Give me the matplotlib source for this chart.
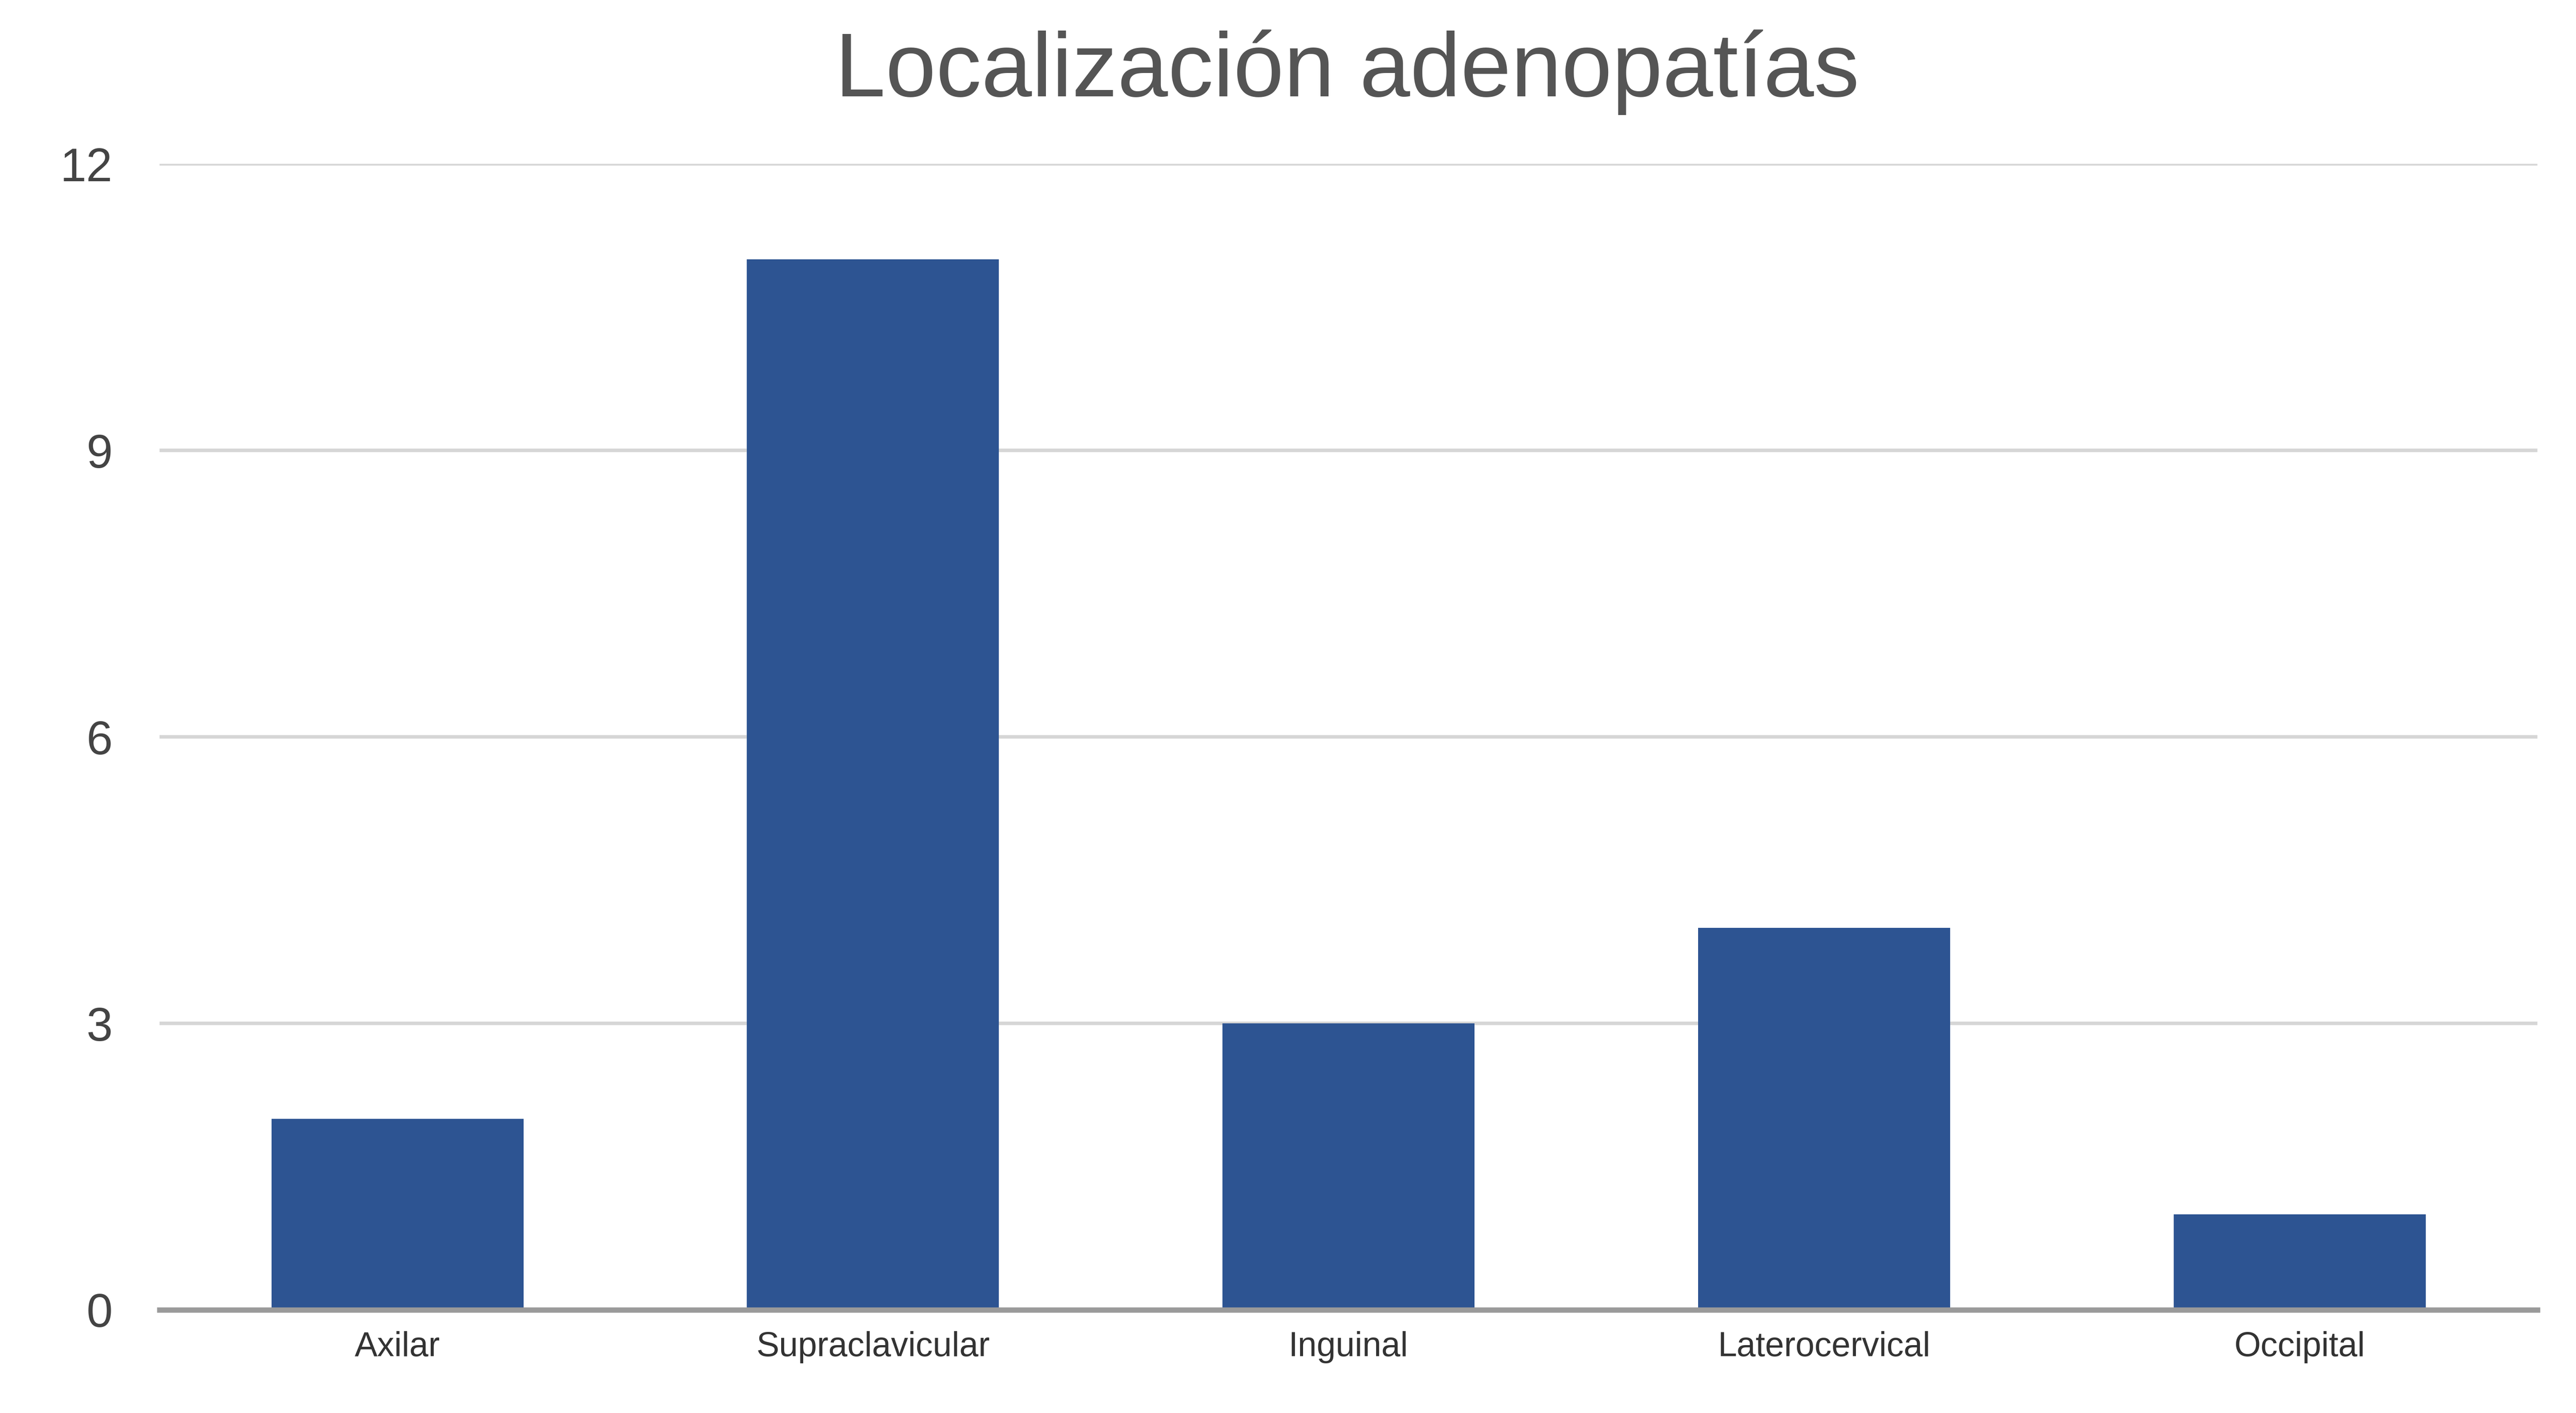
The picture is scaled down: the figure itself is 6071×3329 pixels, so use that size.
import matplotlib
matplotlib.use("Agg")
import matplotlib.pyplot as plt

# data
categories = ["Axilar", "Supraclavicular", "Inguinal", "Laterocervical", "Occipital"]
counts = [2, 11, 3, 4, 1]
y_ticks = [0, 3, 6, 9, 12]

plt.rcParams["font.family"] = ["Liberation Sans", "DejaVu Sans"]

fig = plt.figure(figsize=(60.71, 33.29), dpi=100)
ax = fig.add_axes([0.062, 0.073, 0.923, 0.811])

x = range(len(categories))
ax.bar(x, counts, width=0.53, color="#2d5492", zorder=3)

ax.set_xlim(-0.5, len(categories) - 0.5)
ax.set_ylim(0, 12)
ax.set_yticks(y_ticks)
ax.set_yticklabels([str(t) for t in y_ticks], fontsize=80, color="#444444")
ax.set_xticks(list(x))
ax.set_xticklabels(categories, fontsize=58, color="#333333")
ax.tick_params(axis="y", length=0, pad=80)
ax.tick_params(axis="x", length=0, pad=36)

ax.grid(axis="y", color="#d6d6d6", linewidth=6, zorder=0)
ax.set_axisbelow(True)
for s in ["left", "right", "top"]:
    ax.spines[s].set_visible(False)
ax.spines["bottom"].set_color("#9a9a9a")
ax.spines["bottom"].set_linewidth(9)
ax.spines["bottom"].set_zorder(4)

fig.text(0.523, 0.949, "Localización adenopatías", ha="center", va="center",
         fontsize=154, color="#555555")

fig.savefig("out.png", dpi=100, facecolor="white")
